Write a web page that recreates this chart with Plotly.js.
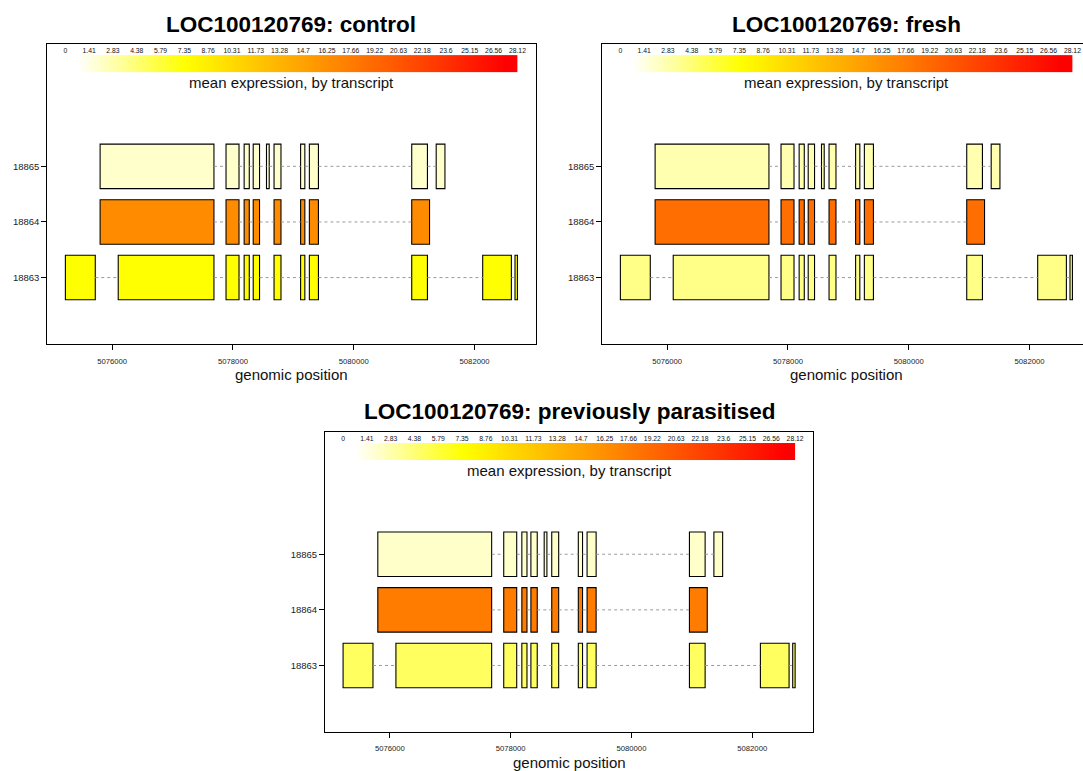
<!DOCTYPE html>
<html><head><meta charset="utf-8">
<script src="https://cdn.plot.ly/plotly-3.0.1.min.js"></script>
<style>html,body{margin:0;padding:0;overflow:hidden;background:#fff}#chart{width:1100px;height:771px}</style>
</head><body><div id="chart"></div>
<script>
// ---------- data ----------
const geneName = "LOC100120769";
const conditions = ["control", "fresh", "previously parasitised"];
const transcripts = [18863, 18864, 18865];
const transcriptLabels = ["18863", "18864", "18865"];

const exonStarts18863 = [5075225, 5076100, 5077885, 5078185, 5078335, 5078680, 5079120, 5079265, 5080960, 5082135, 5082670];
const exonEnds18863   = [5075720, 5077685, 5078100, 5078270, 5078440, 5078795, 5079190, 5079415, 5081220, 5082610, 5082710];
const exonStarts18864 = [5075800, 5077885, 5078185, 5078335, 5078680, 5079120, 5079265, 5080960];
const exonEnds18864   = [5077685, 5078100, 5078270, 5078440, 5078795, 5079190, 5079415, 5081255];
const exonStarts18865 = [5075800, 5077885, 5078185, 5078335, 5078555, 5078680, 5079120, 5079265, 5080960, 5081365];
const exonEnds18865   = [5077685, 5078100, 5078270, 5078440, 5078600, 5078795, 5079190, 5079415, 5081220, 5081510];

// mean expression per transcript (18863, 18864, 18865)
const exprControl     = [7.0, 16.5, 1.4];
const exprFresh       = [3.3, 19.0, 2.2];
const exprParasitised = [4.4, 17.9, 1.5];

const scaleLabels = ["0","1.41","2.83","4.38","5.79","7.35","8.76","10.31","11.73","13.28","14.7","16.25","17.66","19.22","20.63","22.18","23.6","25.15","26.56","28.12"];
const xTickVals = [5076000, 5078000, 5080000, 5082000];
const xTickText = ["5076000", "5078000", "5080000", "5082000"];
const yTickVals = [18863, 18864, 18865];

// ---------- styling / layout ----------
const FONT = "Liberation Sans, Arial, Helvetica, sans-serif";
const W = 1100, H = 771;
const colorscale = [[0, "#FFFFFF"], [0.25, "#FFFF00"], [1, "#FF0000"]];
const scaleValues = scaleLabels.map(Number);
const cmax = scaleValues[scaleValues.length - 1];

const exonStarts = [exonStarts18863, exonStarts18864, exonStarts18865];
const exonEnds = [exonEnds18863, exonEnds18864, exonEnds18865];
const exprs = [exprControl, exprFresh, exprParasitised];

const allStarts = [].concat(...exonStarts), allEnds = [].concat(...exonEnds);
const xmin = Math.min(...allStarts), xmax = Math.max(...allEnds);
const span = xmax - xmin;
const xRange = [xmin - 0.04 * span, xmax + 0.04 * span];
const yRange = [18861.8, 18867.2];

// panel pixel boxes [left, right, top, bottom]
const boxes = [[47.3, 535.5, 44, 344.3], [602.3, 1090.5, 44, 344.3], [325, 813.2, 431.9, 732.2]];

const data = [];
const layout = {
  width: W, height: H, margin: {l: 0, r: 0, t: 0, b: 0},
  paper_bgcolor: "#fff", plot_bgcolor: "#fff", showlegend: false,
  barmode: "overlay", font: {family: FONT, color: "#000"},
  annotations: []
};

conditions.forEach((cond, p) => {
  const sfx = p === 0 ? "" : String(p + 1);
  const xa = "x" + sfx, ya = "y" + sfx;
  const b = boxes[p];

  // intron lines (gaps between consecutive exons)
  const lx = [], ly = [];
  transcripts.forEach((t, i) => {
    const order = exonStarts[i].map((s, k) => k).sort((a, c) => exonStarts[i][a] - exonStarts[i][c]);
    for (let k = 0; k < order.length - 1; k++) {
      const e = exonEnds[i][order[k]], s = exonStarts[i][order[k + 1]];
      if (s > e) { lx.push(e, s, null); ly.push(t, t, null); }
    }
  });
  data.push({type: "scatter", mode: "lines", x: lx, y: ly, xaxis: xa, yaxis: ya,
    line: {color: "#9a9a9a", width: 1, dash: "dot"}, hoverinfo: "skip"});

  // exons
  const by = [], bbase = [], blen = [], bcol = [];
  transcripts.forEach((t, i) => {
    exonStarts[i].forEach((s, k) => {
      by.push(t); bbase.push(s); blen.push(exonEnds[i][k] - s); bcol.push(exprs[p][i]);
    });
  });
  data.push({type: "bar", orientation: "h", y: by, base: bbase, x: blen, width: 0.8,
    xaxis: xa, yaxis: ya, hoverinfo: "skip",
    marker: {color: bcol, colorscale: colorscale, cmin: 0, cmax: cmax, showscale: false,
      line: {color: "#000", width: 1.1}}});

  // colour key gradient
  const edges = scaleValues.concat([0]).map((_, i) => xmin + i * span / scaleValues.length);
  data.push({type: "heatmap", x: edges, y: [18866.7, 18867.0], z: [scaleValues],
    zsmooth: "best", colorscale: colorscale, zmin: 0, zmax: cmax, showscale: false,
    xaxis: xa, yaxis: ya, hoverinfo: "skip"});

  // colour key labels
  data.push({type: "scatter", mode: "text", xaxis: xa, yaxis: ya, hoverinfo: "skip",
    x: scaleLabels.map((_, i) => xmin + i * span / (scaleLabels.length - 1)),
    y: scaleLabels.map(() => 18867.07), text: scaleLabels,
    textfont: {size: 6.8, family: FONT, color: "#111"}, textposition: "middle center", cliponaxis: false});

  layout["xaxis" + sfx] = {domain: [b[0] / W, b[1] / W], anchor: ya, range: xRange,
    showline: true, mirror: true, linecolor: "#000", linewidth: 1,
    showgrid: false, zeroline: false, ticks: "outside", ticklen: 5, tickwidth: 1, tickcolor: "#000",
    ticklabelstandoff: 4,
    tickvals: xTickVals, ticktext: xTickText, tickfont: {size: 7.7, family: FONT, color: "#222"}};
  layout["yaxis" + sfx] = {domain: [1 - b[3] / H, 1 - b[2] / H], anchor: xa, range: yRange,
    showline: true, mirror: true, linecolor: "#000", linewidth: 1,
    showgrid: false, zeroline: false, ticks: "outside", ticklen: 5, tickwidth: 1, tickcolor: "#000",
    tickvals: yTickVals, ticktext: transcriptLabels, tickfont: {size: 9.5, family: FONT, color: "#222"}};

  const hpx = b[3] - b[2];
  layout.annotations.push(
    {text: geneName + ": " + cond, xref: xa + " domain", yref: ya + " domain", x: 0.5, y: 1 + 20 / hpx,
     xanchor: "center", yanchor: "middle", showarrow: false, font: {size: 22.5, weight: "bold", family: FONT, color: "#000"}},
    {text: "mean expression, by transcript", xref: xa, yref: ya, x: (xmin + xmax) / 2, y: 18866.5,
     xanchor: "center", yanchor: "middle", showarrow: false, font: {size: 15, family: FONT, color: "#111"}},
    {text: "genomic position", xref: xa + " domain", yref: ya + " domain", x: 0.5, y: -30.5 / hpx,
     xanchor: "center", yanchor: "middle", showarrow: false, font: {size: 15, family: FONT, color: "#111"}}
  );
});

Plotly.newPlot("chart", data, layout, {staticPlot: true, displayModeBar: false});
</script>
</body></html>
